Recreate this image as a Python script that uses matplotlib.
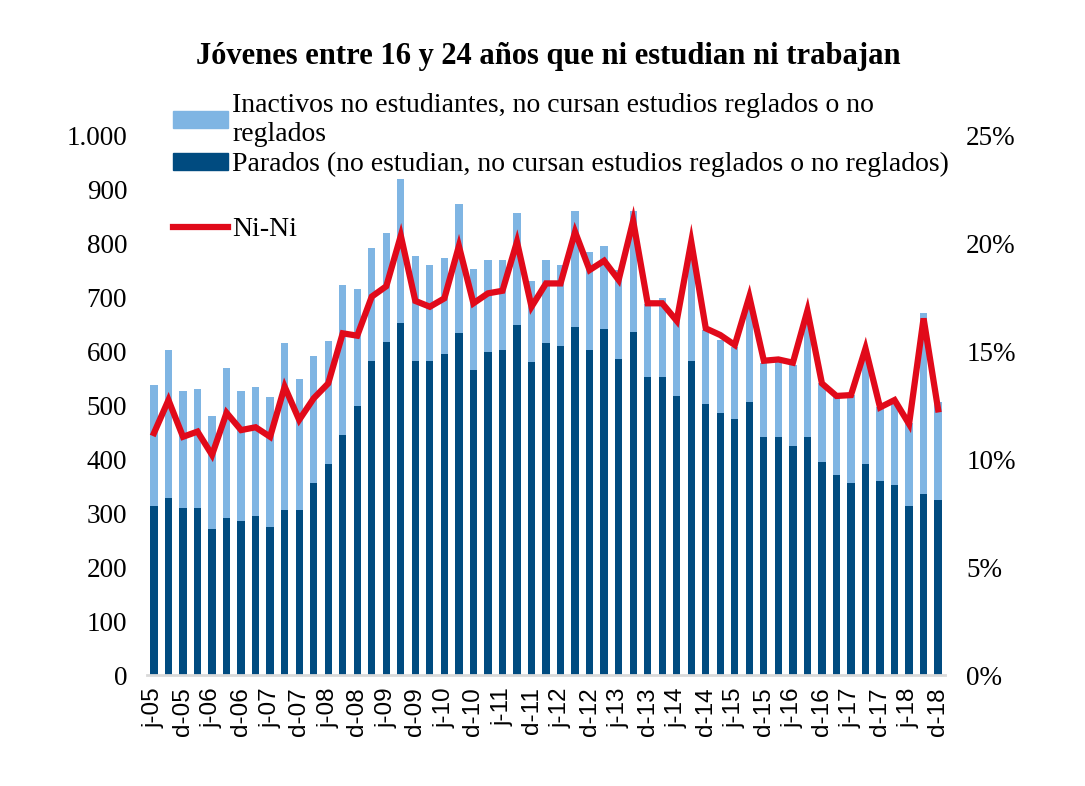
import matplotlib
matplotlib.use('Agg')
import matplotlib.pyplot as plt
from matplotlib.patches import Patch
from matplotlib.lines import Line2D
from matplotlib.ticker import FuncFormatter
import numpy as np

plt.rcParams['font.family'] = 'Liberation Serif'

# Datos trimestrales (miles de jóvenes y % Ni-Ni), 2T2005 - 4T2018
parados = [313, 328, 310, 310, 270, 290, 286, 294, 275, 306,
           306, 356, 391, 444, 498, 582, 617, 652, 582, 582,
           594, 633, 564, 598, 602, 648, 579, 614, 610, 644,
           602, 641, 586, 636, 552, 552, 517, 582, 502, 486,
           475, 506, 441, 441, 425, 441, 394, 371, 356, 391,
           359, 352, 313, 336, 324]
inactivos = [224, 274, 216, 220, 210, 278, 240, 239, 239, 308,
             242, 235, 227, 278, 216, 209, 201, 266, 194, 178,
             178, 239, 188, 171, 167, 208, 151, 155, 150, 216,
             181, 153, 164, 224, 136, 147, 145, 187, 137, 134,
             133, 179, 137, 141, 149, 223, 146, 144, 163, 208,
             138, 157, 153, 335, 182]
nini = [11.2, 12.73, 11.03, 11.27, 10.19, 12.14, 11.34, 11.47, 11.03, 13.35,
        11.81, 12.81, 13.5, 15.82, 15.71, 17.52, 18.0, 20.34, 17.32, 17.05,
        17.44, 19.86, 17.21, 17.67, 17.79, 20.06, 17.05, 18.13, 18.13, 20.52,
        18.75, 19.18, 18.29, 21.03, 17.21, 17.21, 16.4, 20.06, 16.05, 15.74,
        15.28, 17.52, 14.55, 14.61, 14.46, 16.87, 13.5, 12.92, 12.96, 15.12,
        12.39, 12.73, 11.62, 16.51, 12.3]
etiquetas = ['j-05', 'd-05', 'j-06', 'd-06', 'j-07', 'd-07', 'j-08', 'd-08',
             'j-09', 'd-09', 'j-10', 'd-10', 'j-11', 'd-11', 'j-12', 'd-12',
             'j-13', 'd-13', 'j-14', 'd-14', 'j-15', 'd-15', 'j-16', 'd-16',
             'j-17', 'd-17', 'j-18', 'd-18']

c_claro = '#7FB5E3'
c_oscuro = '#004B80'
c_rojo = '#E10A1A'

x = np.arange(len(parados))

fig = plt.figure(figsize=(10.85, 7.86), dpi=100)
ax = fig.add_axes([0.1352, 0.1412, 0.7361, 0.687])

ax.bar(x, parados, width=0.5, color=c_oscuro, zorder=2)
ax.bar(x, inactivos, width=0.5, bottom=parados, color=c_claro, zorder=2)

ax.set_xlim(-0.5, len(x) - 0.5)
ax.set_ylim(0, 1000)
ax.set_yticks(range(0, 1001, 100))
ax.yaxis.set_major_formatter(FuncFormatter(lambda v, p: f'{int(v):,}'.replace(',', '.')))
ax.tick_params(axis='y', length=0, pad=14, labelsize=19.5)
ax.set_xticks(x[::2])
ax.set_xticklabels(etiquetas, rotation=90, family='Liberation Sans', fontsize=17.5)
ax.tick_params(axis='x', length=0, pad=9)
for s in ['top', 'left', 'right']:
    ax.spines[s].set_visible(False)
ax.spines['bottom'].set_color('#D9D9D9')
ax.spines['bottom'].set_linewidth(2)

ax2 = ax.twinx()
ax2.plot(x, nini, color=c_rojo, lw=4.5, solid_joinstyle='miter', zorder=3)
ax2.set_ylim(0, 25)
ax2.set_yticks(range(0, 26, 5))
ax2.yaxis.set_major_formatter(FuncFormatter(lambda v, p: f'{int(v)}%'))
ax2.tick_params(axis='y', length=0, pad=15, labelsize=19.5)
for s in ['top', 'left', 'right', 'bottom']:
    ax2.spines[s].set_visible(False)

# Título
fig.text(0.505, 0.928, 'Jóvenes entre 16 y 24 años que ni estudian ni trabajan',
         ha='center', va='center', fontsize=22, fontweight='bold')

# Leyenda
h_bar = [Patch(color=c_claro), Patch(color=c_oscuro)]
l_bar = ['Inactivos no estudiantes, no cursan estudios reglados o no\nreglados',
         'Parados (no estudian, no cursan estudios reglados o no reglados)']
fig.legend(h_bar, l_bar, loc='upper left', bbox_to_anchor=(0.149, 0.896),
           frameon=False, fontsize=20, handlelength=2.0, handleheight=0.55,
           handletextpad=0.15, labelspacing=0.2, borderaxespad=0)
fig.legend([Line2D([0], [0], color=c_rojo, lw=4.5)], ['Ni-Ni'], loc='upper left',
           bbox_to_anchor=(0.149, 0.738), frameon=False, fontsize=20,
           handlelength=2.0, handletextpad=0.15, borderaxespad=0)

fig.savefig('out.png', dpi=100)
